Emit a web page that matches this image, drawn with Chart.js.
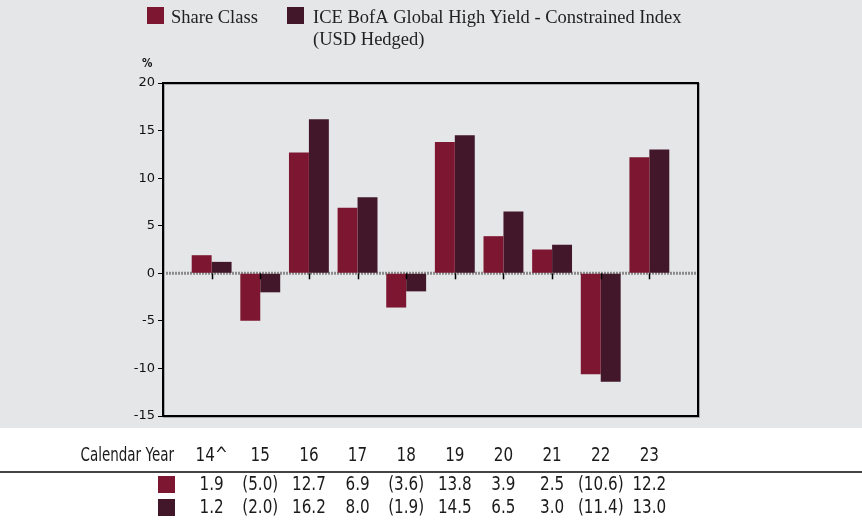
<!DOCTYPE html>
<html lang="en">
<head>
<meta charset="UTF-8">
<title>Calendar year performance</title>
<script src="https://cdn.jsdelivr.net/npm/chart.js"></script>
<style>
  body { margin: 0; background: #fff; }
</style>
</head>
<body>
<canvas id="chart" width="862" height="521"></canvas>
<script>
const years = ['14^', '15', '16', '17', '18', '19', '20', '21', '22', '23'];
const shareClass = [1.9, -5.0, 12.7, 6.9, -3.6, 13.8, 3.9, 2.5, -10.6, 12.2];
const benchmark = [1.2, -2.0, 16.2, 8.0, -1.9, 14.5, 6.5, 3.0, -11.4, 13.0];
const yTicks = [-15, -10, -5, 0, 5, 10, 15, 20];
const seriesNames = ['Share Class', 'ICE BofA Global High Yield - Constrained Index'];
const seriesNameLine2 = '(USD Hedged)';

const RED = '#7D1731';
const DARK = '#43172A';
const BG = '#E5E6E8';
const sans = "'DejaVu Sans', 'Liberation Sans', sans-serif";

// pad one empty slot each side so the year centres sit at 1/11 .. 10/11 of the plot
const labels = [''].concat(years, ['']);
const pad = arr => [null].concat(arr, [null]);

function fmt(v) {
  return v < 0 ? '(' + Math.abs(v).toFixed(1) + ')' : v.toFixed(1);
}

// the table font in the original is a condensed sans, so squeeze horizontally
function squeeze(ctx, text, x, y, align, sx) {
  ctx.save();
  ctx.translate(x, y);
  ctx.scale(sx || 0.8, 1);
  ctx.textAlign = align;
  ctx.fillText(text, 0, 0);
  ctx.restore();
}

const decorPlugin = {
  id: 'decor',
  beforeDraw(chart) {
    const { ctx, width, height } = chart;
    ctx.save();
    ctx.fillStyle = '#fff';
    ctx.fillRect(0, 0, width, height);
    ctx.fillStyle = BG;
    ctx.fillRect(0, 0, width, 428);
    ctx.restore();
  },
  beforeDatasetsDraw(chart) {
    const { ctx, chartArea, scales: { y } } = chart;
    const y0 = y.getPixelForValue(0);
    ctx.save();
    ctx.strokeStyle = '#8a8a8a';
    ctx.lineWidth = 3;
    ctx.setLineDash([2, 1]);
    ctx.beginPath();
    ctx.moveTo(chartArea.left, y0);
    ctx.lineTo(chartArea.right, y0);
    ctx.stroke();
    ctx.restore();
  },
  afterDatasetsDraw(chart) {
    const { ctx, scales: { x, y } } = chart;
    const y0 = y.getPixelForValue(0);
    ctx.save();
    ctx.strokeStyle = '#000';
    ctx.lineWidth = 1.5;
    years.forEach((yr, i) => {
      const px = Math.round(x.getPixelForValue(i + 1)) + 0.5;
      ctx.beginPath();
      ctx.moveTo(px, y0);
      ctx.lineTo(px, y0 + 6);
      ctx.stroke();
    });
    ctx.restore();
  },
  afterDraw(chart) {
    const { ctx, chartArea, scales: { x } } = chart;
    ctx.save();

    // plot frame
    ctx.strokeStyle = '#aaa';
    ctx.lineWidth = 2;
    ctx.strokeRect(chartArea.left + 1, chartArea.top + 1, chartArea.right - chartArea.left, chartArea.bottom - chartArea.top);
    ctx.strokeStyle = '#000';
    ctx.strokeRect(chartArea.left, chartArea.top, chartArea.right - chartArea.left, chartArea.bottom - chartArea.top);

    // % unit
    ctx.fillStyle = '#111';
    ctx.font = "bold 13px " + sans;
    ctx.textBaseline = 'alphabetic';
    squeeze(ctx, '%', 142, 67, 'left');

    // legend
    ctx.font = "18.5px 'Liberation Serif', 'DejaVu Serif', serif";
    ctx.textAlign = 'left';
    ctx.fillStyle = RED;
    ctx.fillRect(147, 7, 17, 17);
    ctx.fillStyle = DARK;
    ctx.fillRect(287, 7, 17, 17);
    ctx.fillStyle = '#222';
    ctx.fillText(seriesNames[0], 171, 23);
    ctx.fillText(seriesNames[1], 313, 23);
    ctx.fillText(seriesNameLine2, 313, 45);

    // table under the chart
    ctx.font = "19px " + sans;
    ctx.textBaseline = 'middle';
    ctx.fillStyle = '#1a1a1a';
    squeeze(ctx, 'Calendar Year', 174, 456, 'right', 0.71);
    years.forEach((yr, i) => {
      const px = x.getPixelForValue(i + 1);
      squeeze(ctx, yr, px, 456, 'center');
      squeeze(ctx, fmt(shareClass[i]), px, 485, 'center');
      squeeze(ctx, fmt(benchmark[i]), px, 508, 'center');
    });
    ctx.strokeStyle = '#444';
    ctx.lineWidth = 2;
    ctx.beginPath();
    ctx.moveTo(0, 472);
    ctx.lineTo(862, 472);
    ctx.stroke();
    ctx.fillStyle = RED;
    ctx.fillRect(158, 476, 17, 17);
    ctx.fillStyle = DARK;
    ctx.fillRect(158, 499, 17, 17);

    ctx.restore();
  }
};

new Chart(document.getElementById('chart'), {
  type: 'bar',
  data: {
    labels: labels,
    datasets: [
      { label: seriesNames[0], data: pad(shareClass), backgroundColor: RED },
      { label: seriesNames[1] + ' ' + seriesNameLine2, data: pad(benchmark), backgroundColor: DARK }
    ]
  },
  options: {
    responsive: false,
    animation: false,
    events: [],
    layout: { padding: { left: 0, top: 83, right: 164, bottom: 105 } },
    datasets: { bar: { categoryPercentage: 0.82, barPercentage: 1.0 } },
    plugins: { legend: { display: false }, tooltip: { enabled: false } },
    scales: {
      x: { type: 'category', offset: false, display: false },
      y: {
        min: yTicks[0],
        max: yTicks[yTicks.length - 1],
        afterBuildTicks(scale) { scale.ticks = yTicks.map(v => ({ value: v })); },
        afterFit(scale) { scale.width = 163; },
        ticks: { color: '#111', font: { family: sans, size: 13 }, padding: 3 },
        grid: { drawOnChartArea: false, drawTicks: true, tickLength: 5, color: '#000', lineWidth: 1 },
        border: { display: true, color: '#000', width: 2 }
      }
    }
  },
  plugins: [decorPlugin]
});
</script>
</body>
</html>
